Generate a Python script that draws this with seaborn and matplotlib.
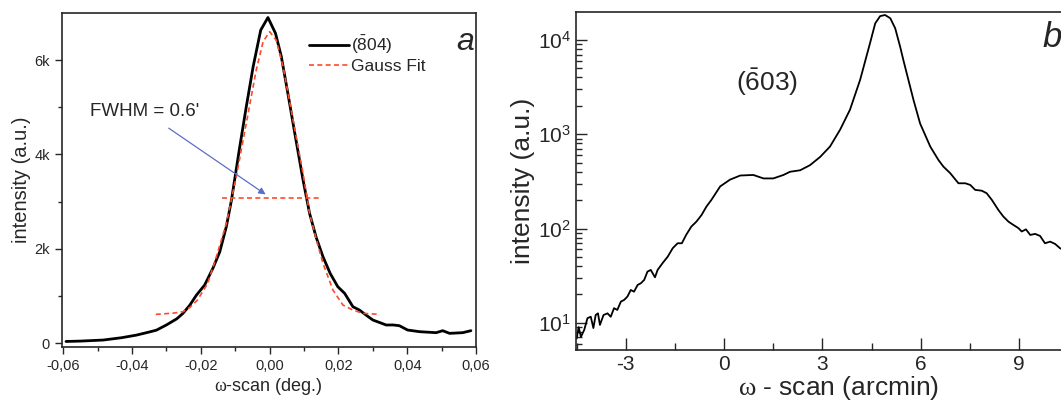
import matplotlib
matplotlib.use("Agg")
import matplotlib.pyplot as plt
import matplotlib.ticker as mticker
import seaborn as sns

# panel a: rocking curve of the (-804) reflection and its Gauss fit
omega_804 = [-0.0592, -0.0550, -0.0484, -0.0430, -0.0387, -0.0350, -0.0329, -0.0300, -0.0270,
             -0.0252, -0.0232, -0.0213, -0.0189, -0.0165, -0.0145, -0.0126, -0.0111, -0.0087,
             -0.0068, -0.0048, -0.0026, -0.0005, 0.0017, 0.0034, 0.0053, 0.0073, 0.0097, 0.0116,
             0.0135, 0.0155, 0.0176, 0.0198, 0.0218, 0.0242, 0.0261, 0.0280, 0.0300, 0.0320,
             0.0339, 0.0358, 0.0377, 0.0401, 0.0436, 0.0484, 0.0503, 0.0523, 0.0561, 0.0585]
int_804 = [40, 48, 70, 120, 175, 240, 280, 390, 520, 635, 810, 1020, 1235, 1590, 1940, 2470,
           3035, 4160, 5010, 5860, 6634, 6900, 6565, 6070, 5290, 4450, 3460, 2753, 2250, 1834,
           1480, 1200, 1059, 776, 705, 600, 494, 440, 388, 390, 374, 282, 247, 226, 268, 212,
           226, 268]

omega_fit = [-0.0331, -0.0280, -0.0252, -0.0232, -0.0210, -0.0180, -0.0155, -0.0126, -0.0097,
             -0.0068, -0.0039, -0.0019, 0.0, 0.0019, 0.0039, 0.0068, 0.0097, 0.0116, 0.0136,
             0.0155, 0.0184, 0.0213, 0.0242, 0.0271, 0.0319]
int_fit = [614, 640, 670, 760, 917, 1270, 1834, 2540, 3530, 4660, 5790, 6390, 6600, 6420, 5860,
           4730, 3600, 2753, 2188, 1694, 1129, 811, 705, 635, 614]

fwhm_x = [-0.0140, 0.0143]
fwhm_y = [3080, 3080]

# panel b: (-603) reflection, log scale
omega_603 = [-4.50, -4.44, -4.37, -4.27, -4.17, -4.07, -3.99, -3.92, -3.85, -3.79,
             -3.68, -3.56, -3.46, -3.36, -3.26, -3.15, -3.05, -2.95, -2.85, -2.75,
             -2.64, -2.54, -2.44, -2.34, -2.24, -2.11, -2.03, -1.88, -1.72, -1.57,
             -1.42, -1.29, -1.16, -1.00, -0.85, -0.69, -0.54, -0.39, -0.12, 0.18,
             0.49, 0.89, 1.20, 1.50, 1.81, 2.01, 2.32, 2.62, 2.93, 3.23,
             3.54, 3.84, 4.15, 4.30, 4.45, 4.61, 4.76, 4.91, 5.07, 5.22,
             5.37, 5.47, 5.57, 5.78, 5.98, 6.29, 6.54, 6.69, 6.90, 7.15,
             7.36, 7.51, 7.66, 7.86, 8.01, 8.17, 8.37, 8.52, 8.68, 8.83,
             8.98, 9.08, 9.21, 9.34, 9.49, 9.64, 9.79, 9.95, 10.10, 10.25,
             10.45, 10.60]
int_603 = [6.8, 9.0, 7.1, 8.4, 11.2, 11.6, 8.8, 12.1, 12.6, 9.5,
           12.1, 12.6, 11.6, 14.3, 13.7, 16.8, 17.5, 19.0, 22.3, 21.4,
           25.2, 26.3, 28.5, 34.9, 36.4, 30.4, 36.4, 42.9, 50.4, 61.8,
           69.8, 69.8, 85.5, 105, 118, 139, 171, 201, 280, 330,
           365, 370, 340, 340, 370, 400, 415, 470, 575, 740,
           1120, 1820, 3780, 5900, 9200, 15000, 17900, 18400, 17000, 13300,
           8500, 6100, 4450, 2300, 1300, 740, 533, 454, 386, 302,
           302, 290, 257, 252, 237, 201, 157, 134, 118, 109,
           101, 93, 98, 85.5, 87.7, 83.5, 69.8, 72.6, 68.6, 61.8,
           57, 52]

sns.set_style("ticks")
plt.rcParams["font.family"] = ["Liberation Sans", "DejaVu Sans"]
plt.rcParams["mathtext.fontset"] = "custom"
plt.rcParams["mathtext.rm"] = "Liberation Sans"
plt.rcParams["mathtext.sf"] = "Liberation Serif"
plt.rcParams["axes.unicode_minus"] = False

red = "#ff4a2a"

fig = plt.figure(figsize=(10.61, 4.04), dpi=100)
ax1 = fig.add_axes([0.058, 0.141, 0.3907, 0.8267])
ax2 = fig.add_axes([0.5429, 0.1337, 0.4948, 0.8366])

# ---- panel a
sns.lineplot(x=omega_804, y=int_804, ax=ax1, color="black", lw=2,
             label=r"($\mathregular{\bar{8}}$04)")
sns.lineplot(x=omega_fit, y=int_fit, ax=ax1, color=red, lw=1.2,
             dashes=False, label="Gauss Fit")
ax1.lines[-1].set_dashes([3, 2])
fwhm_line, = ax1.plot(fwhm_x, fwhm_y, color=red, lw=1.2)
fwhm_line.set_dashes([3, 2])
ax1.annotate("", xy=(-0.0005, 3120), xytext=(-0.030, 4590),
             arrowprops=dict(arrowstyle="-|>", color="#5b6fc8", lw=0.9,
                             mutation_scale=10))
ax1.text(-0.0521, 4900, "FWHM = 0.6'", fontsize=13.5, va="center", ha="left")
ax1.text(0.0567, 6380, "a", fontsize=23, style="italic", ha="center", va="center")

ax1.set_xlim(-0.0605, 0.0600)
ax1.set_ylim(-78, 6995)
ax1.xaxis.set_major_locator(mticker.MultipleLocator(0.02))
ax1.xaxis.set_minor_locator(mticker.MultipleLocator(0.01))
ax1.yaxis.set_major_locator(mticker.MultipleLocator(2000))
ax1.yaxis.set_minor_locator(mticker.MultipleLocator(1000))
ax1.xaxis.set_major_formatter(mticker.FuncFormatter(lambda v, p: f"{v:.2f}".replace(".", ",").replace("-0,00", "0,00")))
ax1.yaxis.set_major_formatter(mticker.FuncFormatter(lambda v, p: "0" if abs(v) < 1 else f"{v/1000:.0f}k"))
ax1.tick_params(which="major", direction="out", length=5, width=1, labelsize=10.5)
ax1.tick_params(which="minor", direction="out", length=3, width=1)
for s in ax1.spines.values():
    s.set_linewidth(1.2)
ax1.set_xlabel(r"$\mathsf{\omega}$-scan (deg.)", fontsize=13, labelpad=2)
ax1.set_ylabel("intensity (a.u.)", fontsize=14.5, labelpad=2)
ax1.legend(loc="upper left", bbox_to_anchor=(0.58, 0.96), frameon=False,
           fontsize=12.5, handlelength=2.3, handletextpad=0.15, labelspacing=0.2,
           borderaxespad=0)

# ---- panel b
ax2.set_yscale("log")
sns.lineplot(x=omega_603, y=int_603, ax=ax2, color="black", lw=1.3)
ax2.text(1.3, 3600, r"($\mathregular{\bar{6}}$03)", fontsize=19, ha="center", va="center")
ax2.text(9.7, 10700, "b", fontsize=25, style="italic", ha="left", va="center")
ax2.set_xlim(-4.52, 11.5)
ax2.set_ylim(5.15, 19800)
ax2.xaxis.set_major_locator(mticker.MultipleLocator(3))
ax2.xaxis.set_minor_locator(mticker.MultipleLocator(1.5))
ax2.xaxis.set_major_formatter(mticker.FuncFormatter(lambda v, p: f"{v:.0f}"))
ax2.yaxis.set_minor_locator(mticker.LogLocator(base=10, subs=range(2, 10), numticks=20))
ax2.yaxis.set_minor_formatter(mticker.NullFormatter())
ax2.tick_params(which="major", direction="in", length=9, width=1, labelsize=15)
ax2.tick_params(axis="y", which="major", length=8)
ax2.tick_params(which="minor", direction="in", length=4, width=1)
ax2.tick_params(axis="x", which="minor", length=5)
for s in ax2.spines.values():
    s.set_linewidth(1.2)
ax2.set_xlabel(r"$\mathsf{\omega}$ - scan (arcmin)", fontsize=19, labelpad=0)
ax2.set_ylabel("intensity (a.u.)", fontsize=19, labelpad=2)

fig.savefig("out.png", dpi=100)
